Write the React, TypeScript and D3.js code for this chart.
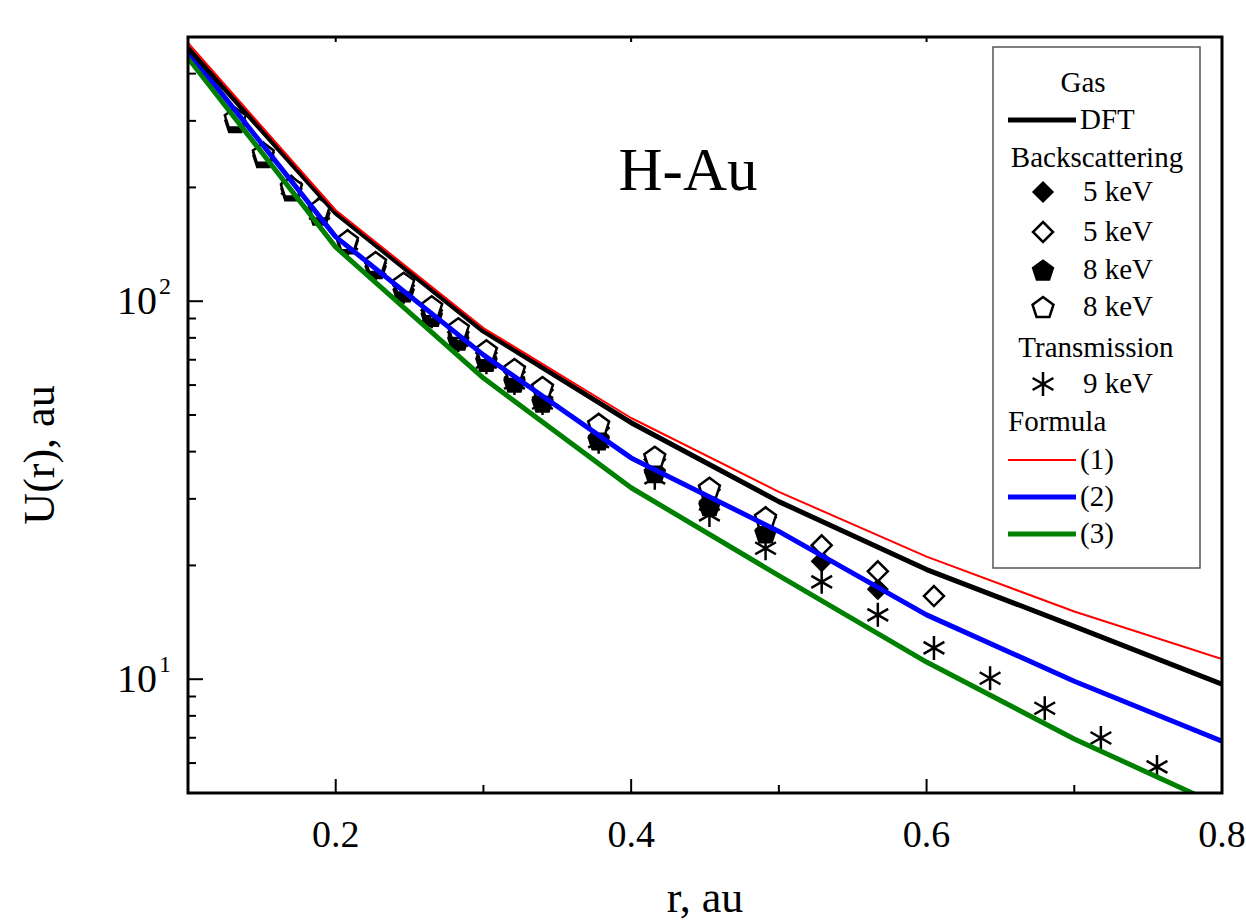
import React from 'react';
import * as d3 from 'd3';

// potential curves, sampled every 0.1 au
const rGrid = [0.1, 0.2, 0.3, 0.4, 0.5, 0.6, 0.7, 0.8];
const dftGas = [468, 171, 83.3, 47.7, 29.5, 19.5, 13.8, 9.7];
const formula1 = [482, 174, 84.9, 49.1, 31.3, 21.1, 15.1, 11.3];
const formula2 = [459, 148, 72.1, 38.5, 24.6, 14.8, 9.88, 6.86];
const formula3 = [440, 139, 62.6, 32.1, 18.8, 11.1, 6.95, 4.6];

// experimental points
const pentR = [0.132, 0.151, 0.170, 0.189, 0.208, 0.227, 0.246, 0.265, 0.283, 0.302, 0.321, 0.340, 0.378, 0.416, 0.453, 0.491];
const pent8Open = [306, 247, 201, 176, 145, 127, 112, 97.0, 84.9, 74.2, 66.2, 59.3, 47.4, 38.8, 32.1, 26.8];
const pent8Filled = [297, 240, 196, 169, 142, 122, 106, 91.3, 78.9, 69.4, 61.1, 54.1, 43.0, 35.2, 28.8, 24.4];

const diaFilledR = [0.170, 0.189, 0.208, 0.227, 0.246, 0.265, 0.283, 0.302, 0.321, 0.340, 0.378, 0.416, 0.453, 0.491, 0.529, 0.567];
const dia5Filled = [199, 171, 145, 124, 107, 93.0, 80.4, 70.7, 62.6, 55.5, 44.0, 35.8, 29.5, 24.9, 20.5, 17.3];

const diaOpenR = [0.151, 0.170, 0.189, 0.208, 0.227, 0.246, 0.265, 0.283, 0.302, 0.321, 0.340, 0.378, 0.416, 0.453, 0.491, 0.529, 0.567, 0.605];
const dia5Open = [247, 202, 177, 145, 126, 110, 94.7, 82.8, 72.9, 65.0, 58.2, 46.2, 38.1, 31.7, 26.8, 22.6, 19.3, 16.6];

const starR = [0.170, 0.189, 0.208, 0.227, 0.246, 0.265, 0.283, 0.302, 0.321, 0.340, 0.378, 0.416, 0.453, 0.491, 0.529, 0.567, 0.605, 0.643, 0.680, 0.718, 0.756];
const trans9 = [199, 171, 142, 122, 106, 91.3, 78.9, 69.0, 60.8, 53.8, 42.5, 34.1, 27.2, 22.2, 18.1, 14.8, 12.1, 10.06, 8.38, 6.99, 5.86];

const xTicks = [0.2, 0.4, 0.6, 0.8];
const xMinor = [0.3, 0.5, 0.7];
const yMajor = [10, 100];
const yMinor = [6, 7, 8, 9, 20, 30, 40, 50, 60, 70, 80, 90, 200, 300, 400];

const W = 1246, H = 924;
const m = { left: 188, right: 1222, top: 37, bottom: 793 };
const FONT = '"Liberation Serif", "Times New Roman", Times, serif';

const diamond = (s) => `M0,${-s}L${s},0L0,${s}L${-s},0Z`;
const pentagon = (s) => {
  const pts = d3.range(5).map(i => {
    const a = -Math.PI / 2 + i * 2 * Math.PI / 5;
    return [s * Math.cos(a), s * Math.sin(a) + s * 0.1];
  });
  return 'M' + pts.map(p => p.join(',')).join('L') + 'Z';
};
const star = (s) => [90, 30, -30].map(a => {
  const r = a * Math.PI / 180;
  const dx = s * Math.cos(r), dy = s * Math.sin(r);
  return `M${-dx},${dy}L${dx},${-dy}`;
}).join('');

function Marker({ kind, x, y }) {
  if (kind === 'diaFilled') return <path transform={`translate(${x},${y})`} d={diamond(10)} fill="#000" stroke="#000" strokeWidth={1.5} />;
  if (kind === 'diaOpen') return <path transform={`translate(${x},${y})`} d={diamond(10)} fill="#fff" stroke="#000" strokeWidth={2.5} />;
  if (kind === 'pentFilled') return <path transform={`translate(${x},${y})`} d={pentagon(11)} fill="#000" stroke="#000" strokeWidth={1.5} />;
  if (kind === 'pentOpen') return <path transform={`translate(${x},${y})`} d={pentagon(11)} fill="#fff" stroke="#000" strokeWidth={2.5} />;
  return <path transform={`translate(${x},${y})`} d={star(12)} fill="none" stroke="#000" strokeWidth={2.5} />;
}

export default function App() {
  const x = d3.scaleLinear().domain([0.1, 0.8]).range([m.left, m.right]);
  const y = d3.scaleLog().domain([5, 500]).range([m.bottom, m.top]);
  const line = d3.line().x((d) => x(d[0])).y((d) => y(d[1]));
  const curve = (vals) => line(rGrid.map((r, i) => [r, vals[i]]));

  const markerSets = [
    { kind: 'pentFilled', r: pentR, v: pent8Filled },
    { kind: 'diaFilled', r: diaFilledR, v: dia5Filled },
    { kind: 'star', r: starR, v: trans9 },
    { kind: 'diaOpen', r: diaOpenR, v: dia5Open },
    { kind: 'pentOpen', r: pentR, v: pent8Open },
  ];

  const lines = [
    { vals: formula3, color: '#008000', w: 5 },
    { vals: formula2, color: '#0000ff', w: 5 },
    { vals: dftGas, color: '#000', w: 5 },
    { vals: formula1, color: '#ff0000', w: 2 },
  ];

  const lx = 1008, lText = 1083;
  const legendRows = [
    { y: 83, title: 'Gas', cx: 1083 },
    { y: 120, line: '#000', w: 5, label: 'DFT' },
    { y: 158, title: 'Backscattering', cx: 1097 },
    { y: 192, marker: 'diaFilled', label: '5 keV' },
    { y: 232, marker: 'diaOpen', label: '5 keV' },
    { y: 270, marker: 'pentFilled', label: '8 keV' },
    { y: 307, marker: 'pentOpen', label: '8 keV' },
    { y: 348, title: 'Transmission', cx: 1096 },
    { y: 384, marker: 'star', label: '9 keV' },
    { y: 422, left: 'Formula' },
    { y: 460, line: '#ff0000', w: 2, label: '(1)' },
    { y: 497, line: '#0000ff', w: 5, label: '(2)' },
    { y: 534, line: '#008000', w: 5, label: '(3)' },
  ];

  return (
    <svg width={W} height={H} style={{ position: 'absolute', left: 0, top: 0, background: '#fff', fontFamily: FONT }}>
      <defs>
        <clipPath id="plot">
          <rect x={m.left} y={m.top} width={m.right - m.left} height={m.bottom - m.top} />
        </clipPath>
      </defs>

      <g clipPath="url(#plot)">
        {markerSets.map(s => s.r.map((r, i) => (
          <Marker key={s.kind + i} kind={s.kind} x={x(r)} y={y(s.v[i])} />
        )))}
        {lines.map((l, i) => (
          <path key={i} d={curve(l.vals)} fill="none" stroke={l.color} strokeWidth={l.w} strokeLinejoin="round" />
        ))}
      </g>

      {/* frame */}
      <rect x={m.left} y={m.top} width={m.right - m.left} height={m.bottom - m.top} fill="none" stroke="#000" strokeWidth={3} />

      {/* x ticks */}
      {xTicks.map(t => (
        <g key={t}>
          <line x1={x(t)} x2={x(t)} y1={m.bottom} y2={m.bottom - 14} stroke="#000" strokeWidth={2} />
          <line x1={x(t)} x2={x(t)} y1={m.top} y2={m.top + 5} stroke="#000" strokeWidth={2} />
          <text x={x(t)} y={847} textAnchor="middle" fontSize={38}>{t.toFixed(1)}</text>
        </g>
      ))}
      {xMinor.map(t => (
        <line key={t} x1={x(t)} x2={x(t)} y1={m.bottom} y2={m.bottom - 8} stroke="#000" strokeWidth={2} />
      ))}

      {/* y ticks */}
      {yMajor.map(t => (
        <g key={t}>
          <line x1={m.left} x2={m.left + 15} y1={y(t)} y2={y(t)} stroke="#000" strokeWidth={2} />
          <text x={157} y={y(t) + 13} textAnchor="end" fontSize={40}>10</text>
          <text x={159} y={y(t) - 7} fontSize={24}>{Math.round(Math.log10(t))}</text>
        </g>
      ))}
      {yMinor.map(t => (
        <line key={t} x1={m.left} x2={m.left + 8} y1={y(t)} y2={y(t)} stroke="#000" strokeWidth={2} />
      ))}

      {/* axis titles */}
      <text x={705} y={912} textAnchor="middle" fontSize={44}>r, au</text>
      <text transform="translate(54,455) rotate(-90)" textAnchor="middle" fontSize={44}>U(r), au</text>
      <text x={688} y={190} textAnchor="middle" fontSize={61}>H-Au</text>

      {/* legend */}
      <rect x={993} y={47} width={207} height={521} fill="#fff" stroke="#555" strokeWidth={1.5} />
      {legendRows.map((row, i) => (
        <g key={i} fontSize={29}>
          {row.title && <text x={row.cx} y={row.y + 9} textAnchor="middle">{row.title}</text>}
          {row.left && <text x={lx} y={row.y + 9}>{row.left}</text>}
          {row.line && <line x1={lx} x2={1076} y1={row.y} y2={row.y} stroke={row.line} strokeWidth={row.w} />}
          {row.marker && <Marker kind={row.marker} x={1043} y={row.y} />}
          {row.label && <text x={row.line ? 1080 : lText} y={row.y + 9}>{row.label}</text>}
        </g>
      ))}
    </svg>
  );
}
